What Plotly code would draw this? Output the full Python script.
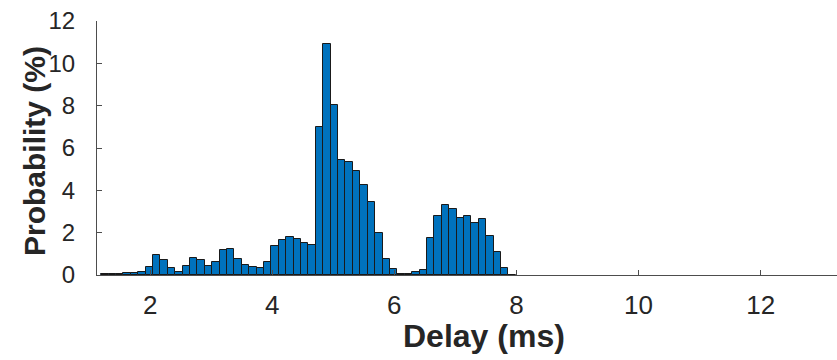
import numpy as np
import plotly.graph_objects as go

# Histogram data
bin_start = 1.197      # ms, left edge of first bin
bin_width = 0.1213     # ms
probability = [0.03, 0.03, 0.04, 0.08, 0.10, 0.16, 0.39, 0.95, 0.72, 0.32,
               0.14, 0.41, 0.80, 0.73, 0.44, 0.61, 1.18, 1.23, 0.77, 0.49,
               0.39, 0.32, 0.62, 1.36, 1.66, 1.81, 1.69, 1.53, 1.43, 7.01,
               10.9, 8.02, 5.44, 5.33, 4.93, 4.24, 3.47, 2.00, 0.74, 0.29,
               0.06, 0.05, 0.16, 0.24, 1.73, 2.77, 3.31, 3.10, 2.69, 2.77,
               2.44, 2.63, 1.84, 1.09, 0.31, 0.02]
bin_centers = [bin_start + bin_width * (i + 0.5) for i in range(len(probability))]

x_ticks = [2, 4, 6, 8, 10, 12]
y_ticks = [0, 2, 4, 6, 8, 10, 12]
x_title = "Delay (ms)"
y_title = "Probability (%)"

W, H = 837, 360
ML, MR, MT, MB = 97, 0, 21, 85
pw = W - ML - MR
ph = H - MT - MB

fig = go.Figure()
fig.add_trace(go.Bar(
    x=bin_centers, y=probability, width=bin_width,
    marker=dict(color="#0072BD", line=dict(color="#1a1a1a", width=1)),
    showlegend=False,
))

axis_color = "#4d4d4d"
text_color = "#262626"
tick_font_x = dict(family="Liberation Sans, Arial, sans-serif", size=26, color=text_color)
tick_font_y = dict(family="Liberation Sans, Arial, sans-serif", size=24, color=text_color)
title_font_x = dict(family="Liberation Sans, Arial, sans-serif", size=32, color=text_color)
title_font_y = dict(family="Liberation Sans, Arial, sans-serif", size=30, color=text_color)

fig.update_layout(
    width=W, height=H,
    margin=dict(l=ML, r=MR, t=MT, b=MB, pad=0),
    paper_bgcolor="white", plot_bgcolor="white",
    bargap=0,
    xaxis=dict(range=[1.13, 13.25], tickvals=x_ticks, ticks="inside", ticklen=5,
               tickcolor=axis_color, showline=True, linecolor=axis_color, linewidth=1,
               showgrid=False, zeroline=False, tickfont=tick_font_x, ticklabelstandoff=7),
    yaxis=dict(range=[0, 12], tickvals=y_ticks, ticks="inside", ticklen=5,
               tickcolor=axis_color, showline=True, linecolor=axis_color, linewidth=1,
               showgrid=False, zeroline=False, tickfont=tick_font_y, ticklabelstandoff=16),
    annotations=[
        dict(text="<b>%s</b>" % y_title, xref="paper", yref="paper",
             x=(34 - ML) / pw, y=(275 - 151) / ph, xanchor="center", yanchor="middle",
             textangle=-90, showarrow=False, font=title_font_y),
        dict(text="<b>%s</b>" % x_title, xref="paper", yref="paper",
             x=(484 - ML) / pw, y=(275 - 336) / ph, xanchor="center", yanchor="middle",
             showarrow=False, font=title_font_x),
    ],
)

fig.write_html("out.html")
